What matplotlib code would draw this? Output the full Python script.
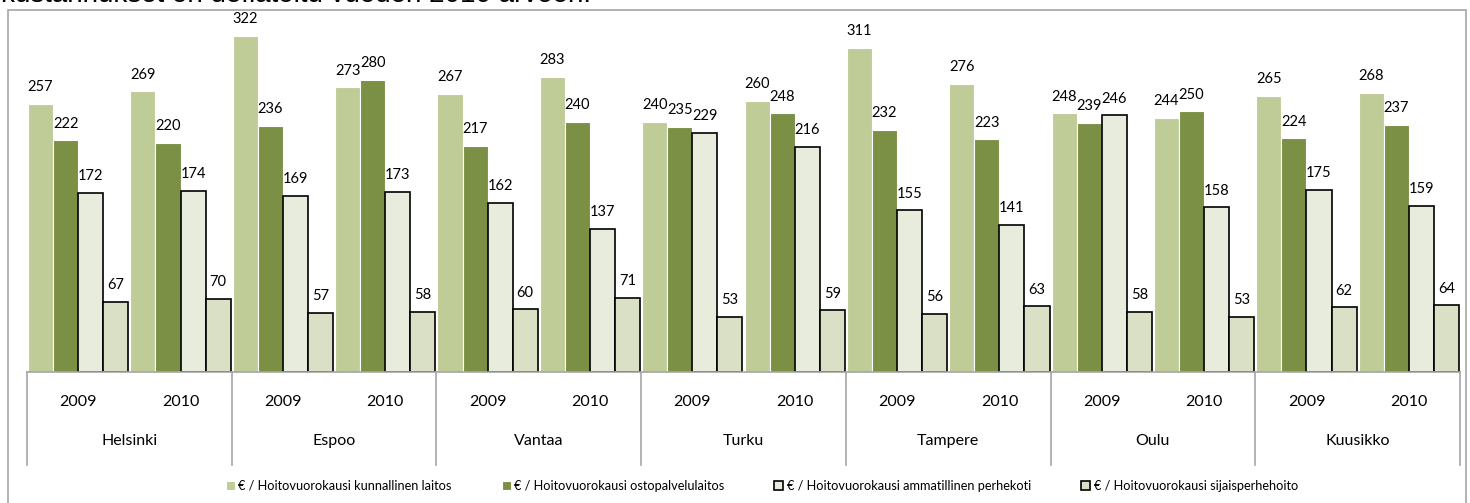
import matplotlib
matplotlib.use("Agg")
import matplotlib.pyplot as plt
from matplotlib.patches import Rectangle
import numpy as np

cities = ["Helsinki", "Espoo", "Vantaa", "Turku", "Tampere", "Oulu", "Kuusikko"]
years = ["2009", "2010"]

# values per (city, year) group, in order Helsinki 2009, Helsinki 2010, ...
kunnallinen = [257, 269, 322, 273, 267, 283, 240, 260, 311, 276, 248, 244, 265, 268]
ostopalvelu = [222, 220, 236, 280, 217, 240, 235, 248, 232, 223, 239, 250, 224, 237]
perhekoti = [172, 174, 169, 173, 162, 137, 229, 216, 155, 141, 246, 158, 175, 159]
sijaisperhe = [67, 70, 57, 58, 60, 71, 53, 59, 56, 63, 58, 53, 62, 64]

series_names = [
    "€ / Hoitovuorokausi kunnallinen laitos",
    "€ / Hoitovuorokausi ostopalvelulaitos",
    "€ / Hoitovuorokausi ammatillinen perhekoti",
    "€ / Hoitovuorokausi sijaisperhehoito",
]

W, H = 1470, 503
fig = plt.figure(figsize=(W / 100, H / 100), dpi=100)
font = ["Lato", "DejaVu Sans"]

# outer chart frame
fig.patches.append(Rectangle((8 / W, -0.05), 1458 / W, 1 - 10 / H + 0.05,
                             transform=fig.transFigure, fill=False,
                             edgecolor="#a6a6a6", linewidth=1.2))
# heading of the page, clipped by the screenshot
fig.text(1 / W, 1 - 2 / H, "kustannukset on deflatoitu vuoden 2010 arvoon.",
         fontsize=20, family="Liberation Sans", va="baseline", ha="left")

left, right, base, top = 27, 1460, 372, 7
ax = fig.add_axes([left / W, 1 - base / H, (right - left) / W, (base - top) / H])
ax.set_xlim(0, 14)
ax.set_ylim(0, 350)
ax.axis("off")

x = np.arange(14) + 0.5
bw = 0.245
styles = [
    dict(color="#bfcc97", edgecolor="white", linewidth=0.8),
    dict(color="#7b8f45", edgecolor="white", linewidth=0.8),
    dict(color="#e8ecdd", edgecolor="black", linewidth=1.2),
    dict(color="#dae0c5", edgecolor="black", linewidth=1.2),
]
data = [kunnallinen, ostopalvelu, perhekoti, sijaisperhe]
handles = []
for i, (vals, st) in enumerate(zip(data, styles)):
    pos = x + (i - 1.5) * bw
    b = ax.bar(pos, vals, width=bw, label=series_names[i], **st)
    handles.append(b)
    for p, v in zip(pos, vals):
        ax.annotate(str(v), (p, v), xytext=(0, 7), textcoords="offset points",
                    ha="center", va="bottom", fontsize=10.5, family=font)

# category axis
ax.plot([0, 14], [0, 0], color="#a6a6a6", linewidth=1.2, clip_on=False)
axh = base - top
for k in range(8):
    ax.plot([2 * k, 2 * k], [0, -(465 - base) / axh * 350], color="#a6a6a6",
            linewidth=1.2, clip_on=False)
for g in range(14):
    ax.text(x[g], -(402 - base) / axh * 350, years[g % 2], ha="center",
            va="center", fontsize=11.5, family=font)
for c, name in enumerate(cities):
    ax.text(2 * c + 1, -(441 - base) / axh * 350, name, ha="center",
            va="center", fontsize=11.5, family=font)

fig.legend(handles=handles, loc="center", bbox_to_anchor=(762 / W, 1 - 486 / H),
           ncol=4, frameon=False, prop={"family": font, "size": 9.2},
           handlelength=0.7, handleheight=0.7, handletextpad=0.3,
           columnspacing=3.9)

fig.savefig("out.png", dpi=100)
